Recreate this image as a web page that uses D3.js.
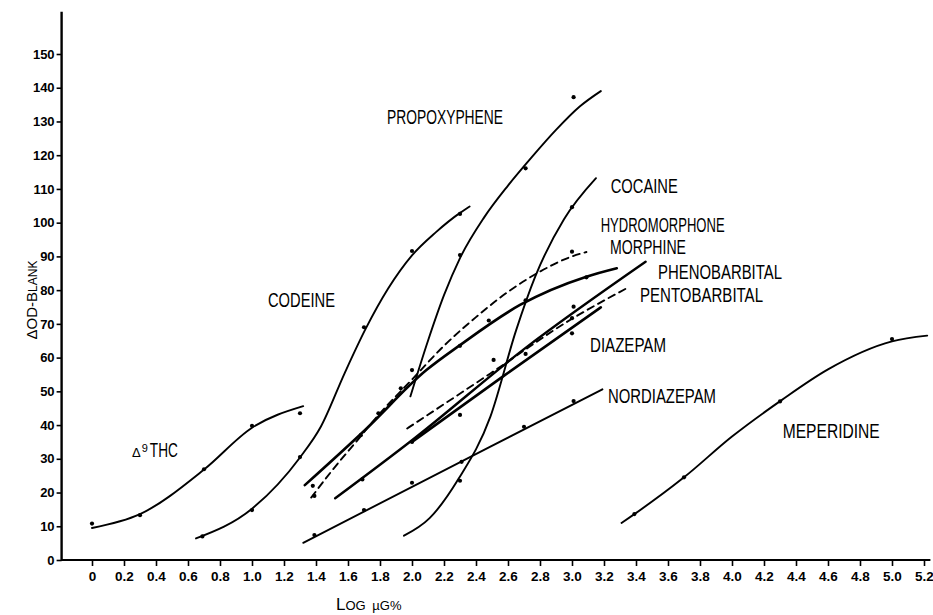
<!DOCTYPE html>
<html><head><meta charset="utf-8">
<script src="https://cdn.jsdelivr.net/npm/d3@7"></script>
<style>
html,body{margin:0;padding:0;background:#fff;}
svg{display:block;}
</style></head>
<body>
<svg id="chart" width="933" height="615"></svg>
<script>
// ---------- DATA ----------
const xTickValues = [0,0.2,0.4,0.6,0.8,1.0,1.2,1.4,1.6,1.8,2.0,2.2,2.4,2.6,2.8,3.0,3.2,3.4,3.6,3.8,4.0,4.2,4.4,4.6,4.8,5.0,5.2];
const yTickValues = [0,10,20,30,40,50,60,70,80,90,100,110,120,130,140,150];

const drugNames = ["THC","CODEINE","PROPOXYPHENE","COCAINE","HYDROMORPHONE","MORPHINE","PHENOBARBITAL","PENTOBARBITAL","DIAZEPAM","NORDIAZEPAM","MEPERIDINE"];

// fitted curves [log µg%, ΔOD-blank]
const thcCurve = [[0,9.5],[0.3,13.6],[0.7,26.8],[1.0,39.2],[1.32,45.6]];
const thcDots = [[0,10.8],[0.3,13.3],[0.7,26.9],[1.0,39.8],[1.3,43.5]];

const codeineCurve = [[0.65,6.4],[1.0,15.2],[1.3,30.4],[1.43,39.5],[1.58,55.5],[1.71,68.5],[1.85,80.4],[2.0,90.3],[2.15,97.2],[2.3,102.9],[2.36,104.8]];
const codeineDots = [[0.69,7],[1.0,14.8],[1.3,30.5],[1.7,69],[2.0,91.6],[2.3,102.6]];

const propoxypheneCurve = [[1.99,48.5],[2.1,65],[2.2,78.5],[2.3,89.5],[2.45,101.5],[2.6,111],[2.75,119.5],[2.9,127.5],[3.05,134.5],[3.18,139]];
const propoxypheneDots = [[2.3,90.4],[2.71,116.1],[3.01,137.2]];

const cocaineCurve = [[1.95,7.2],[2.11,12.4],[2.29,24],[2.49,42.5],[2.65,68],[2.77,84],[2.95,101],[3.15,113.2]];
const cocaineDots = [[2.3,23.5],[3.0,104.6]];

const hydromorphoneCurve = [[1.37,18.5],[1.5,26.5],[1.65,35],[1.8,43.5],[2.0,53.5],[2.2,63.5],[2.4,72],[2.6,79.5],[2.8,85.5],[3.0,90],[3.09,91.3]];
const hydromorphoneDots = [[1.38,22],[1.39,19],[1.68,37],[2.0,56.3],[2.48,71],[3.0,91.4]];

const morphineCurve = [[1.33,22.2],[1.71,38.7],[2.09,56.3],[2.3,63.7],[2.675,75.6],[3.09,84],[3.28,86.5]];
const morphineDots = [[1.79,43.5],[1.93,50.9],[2.3,63.5],[2.71,77],[3.09,83.8]];

const phenobarbitalCurve = [[1.52,18.3],[2.0,35.5],[2.7,62.5],[3.46,88.4]];
const phenobarbitalDots = [[1.69,23.9],[2.0,35],[3.01,75.1]];

const pentobarbitalCurve = [[1.97,39],[2.49,55.3],[3.0,71.5],[3.34,80.5]];
const pentobarbitalDots = [[2.51,59.3],[3.0,71.7]];

const diazepamCurve = [[2.0,35],[2.58,54.8],[3.18,74.9]];
const diazepamDots = [[2.3,43],[2.71,61.1],[3.0,67.2]];

const nordiazepamCurve = [[1.32,5.1],[2.49,33.6],[3.19,50.6]];
const nordiazepamDots = [[1.39,7.4],[1.7,14.8],[2.0,22.9],[2.31,29.1],[2.7,39.5],[3.01,47.1]];

const meperidineCurve = [[3.31,11],[3.39,13.6],[3.7,24.5],[4.0,36.6],[4.31,47.4],[4.6,56.5],[5.0,64.8],[5.22,66.5]];
const meperidineDots = [[3.39,13.6],[3.7,24.5],[4.3,47],[5.0,65.5]];

// label anchor points (left edge, vertical centre) in data units
const labelX = [0.25,1.10,1.844,3.242,3.179,3.2375,3.5375,3.425,3.1125,3.225,4.317];
const labelY = [32.6,77.1,131.3,111,99.4,92.8,85.4,78.6,63.7,48.6,38.2];

// ---------- BUILD ----------
const curves = [thcCurve,codeineCurve,propoxypheneCurve,cocaineCurve,hydromorphoneCurve,morphineCurve,phenobarbitalCurve,pentobarbitalCurve,diazepamCurve,nordiazepamCurve,meperidineCurve];
const dots = [thcDots,codeineDots,propoxypheneDots,cocaineDots,hydromorphoneDots,morphineDots,phenobarbitalDots,pentobarbitalDots,diazepamDots,nordiazepamDots,meperidineDots];
const series = drugNames.map((n,i)=>({name:n, curve:curves[i], dots:dots[i], lx:labelX[i], ly:labelY[i]}));

// styles
const dashed = {HYDROMORPHONE:true, PENTOBARBITAL:true};
const thick = {MORPHINE:2.6, PHENOBARBITAL:2.4, DIAZEPAM:2.6};
const labelWidth = {CODEINE:67, PROPOXYPHENE:116, COCAINE:67, HYDROMORPHONE:124, MORPHINE:76, PHENOBARBITAL:124, PENTOBARBITAL:123, DIAZEPAM:76, NORDIAZEPAM:108, MEPERIDINE:97};

const svg = d3.select("#chart");
const x = d3.scaleLinear().domain([0,5.2]).range([92,924]);
const y = d3.scaleLinear().domain([0,150]).range([560,54]);
const fontTick = "'Liberation Sans Narrow','Liberation Sans',Arial,sans-serif";

// axis lines
const axisX0 = -0.19, axisX1 = 5.24, axisYTop = 162.5;
svg.append("line").attr("x1",x(axisX0)).attr("x2",x(axisX1)).attr("y1",y(0)).attr("y2",y(0))
  .attr("stroke","#000").attr("stroke-width",2.2);
svg.append("line").attr("x1",x(axisX0)).attr("x2",x(axisX0)).attr("y1",y(0)+1).attr("y2",y(axisYTop))
  .attr("stroke","#000").attr("stroke-width",2.4);

// x axis
const gx = svg.append("g").attr("transform",`translate(0,${y(0)})`)
  .call(d3.axisBottom(x).tickValues(xTickValues).tickSize(6).tickPadding(5)
    .tickFormat(d=> d===0 ? "0" : d3.format(".1f")(d)));
gx.select(".domain").remove();
gx.selectAll(".tick line").attr("stroke","#000").attr("stroke-width",1.6);
gx.selectAll(".tick text").attr("font-family",fontTick).attr("font-weight","bold")
  .attr("font-size",13.5).attr("fill","#000");

// y axis
const gy = svg.append("g").attr("transform",`translate(${x(axisX0)},0)`)
  .call(d3.axisLeft(y).tickValues(yTickValues).tickSize(5).tickPadding(2));
gy.select(".domain").remove();
gy.selectAll(".tick line").attr("stroke","#000").attr("stroke-width",1.6);
gy.selectAll(".tick text").attr("font-family",fontTick).attr("font-weight","bold")
  .attr("font-size",13).attr("fill","#000");

// curves
const line = d3.line().x(d=>x(d[0])).y(d=>y(d[1])).curve(d3.curveMonotoneX);
series.forEach(s=>{
  svg.append("path").datum(s.curve).attr("d",line)
    .attr("fill","none").attr("stroke","#000")
    .attr("stroke-width", thick[s.name] || 1.9)
    .attr("stroke-dasharray", dashed[s.name] ? "7,5" : null)
    .attr("stroke-linecap","round");
  svg.append("g").selectAll("circle").data(s.dots).join("circle")
    .attr("cx",d=>x(d[0])).attr("cy",d=>y(d[1])).attr("r",2.1).attr("fill","#000");
});

// labels
const fontLabel = "'Liberation Sans Narrow','Liberation Sans',Arial,sans-serif";
const labelSize = 20, capHalf = 0.36*labelSize;
series.forEach(s=>{
  if (s.name === "THC") {
    const t = svg.append("text").attr("x",x(s.lx)).attr("y",y(s.ly)+7)
      .attr("font-family",fontLabel).attr("fill","#000");
    t.append("tspan").attr("font-size",13).text("\u0394");
    t.append("tspan").attr("font-size",11).attr("dy",-5).attr("dx",1).text("9");
    t.append("tspan").attr("font-size",labelSize).attr("dy",5).attr("dx",2)
      .attr("textLength",28).attr("lengthAdjust","spacingAndGlyphs").text("THC");
  } else {
    svg.append("text").attr("x",x(s.lx)).attr("y",y(s.ly)+capHalf)
      .attr("font-family",fontLabel).attr("font-size",labelSize).attr("fill","#000")
      .attr("textLength",labelWidth[s.name]).attr("lengthAdjust","spacingAndGlyphs")
      .text(s.name);
  }
});

// axis titles
const xt = svg.append("text").attr("x",336).attr("y",610)
  .attr("font-family",fontTick).attr("fill","#000");
xt.append("tspan").attr("font-size",17).text("L");
xt.append("tspan").attr("font-size",13).text("OG ");
xt.append("tspan").attr("font-size",13).attr("dx",3).text("\u00B5G%");

const yt = svg.append("text").attr("transform","translate(37,300) rotate(-90)")
  .attr("text-anchor","middle").attr("font-family",fontTick).attr("fill","#000");
yt.append("tspan").attr("font-size",15).text("\u0394OD-B");
yt.append("tspan").attr("font-size",12).text("LANK");
</script>
</body></html>
